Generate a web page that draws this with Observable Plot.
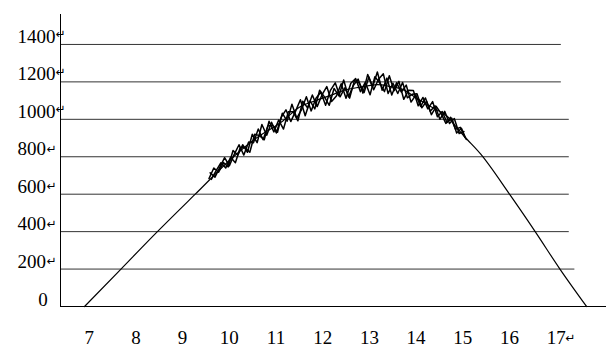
<!DOCTYPE html>
<html><head><meta charset="utf-8">
<script src="https://cdn.jsdelivr.net/npm/d3@7"></script>
<script src="https://cdn.jsdelivr.net/npm/@observablehq/plot@0.6"></script>
<style>body{margin:0;background:#fff}</style>
</head><body><div id="chart"></div>
<script>
// Tick labels
const xTicks = [7, 8, 9, 10, 11, 12, 13, 14, 15, 16, 17];
const yTicks = [0, 200, 400, 600, 800, 1000, 1200, 1400];

// Smooth curve (hour, value)
const smoothHours  = [6.90, 7.68, 8.46, 9.27, 10.09, 10.58, 11.14, 11.5, 11.85, 12.17, 12.45, 12.81, 13.17, 13.45, 13.71, 14.03, 14.37, 14.67, 14.89, 15.01, 15.38, 16.0, 16.55, 17.08, 17.65];
const smoothValues = [0, 200, 400, 600, 800, 900, 990, 1065, 1100, 1128, 1155, 1172, 1185, 1175, 1160, 1110, 1060, 1015, 950, 915, 815, 600, 400, 200, 0];

// Noisy measured series (start hour, step, values)
const noiseStep = 0.103;
const noiseAStart = 9.565;
const noiseA = [683, 740, 717, 769, 746, 833, 809, 864, 824, 920, 875, 972, 915, 984, 927, 1010, 1051, 988, 1044, 1105, 1019, 1098, 1056, 1155, 1120, 1075, 1165, 1125, 1210, 1120, 1180, 1215, 1140, 1240, 1172, 1253, 1155, 1220, 1130, 1195, 1145, 1183, 1092, 1130, 1069, 1114, 1043, 1072, 1000, 1043, 978, 1004, 924, 935];
const noiseBStart = 9.615;
const noiseB = [679, 726, 768, 740, 797, 768, 849, 849, 824, 920, 913, 891, 990, 933, 996, 948, 1040, 1041, 992, 1097, 1061, 1130, 1068, 1130, 1175, 1095, 1125, 1190, 1113, 1193, 1218, 1148, 1198, 1131, 1228, 1194, 1148, 1233, 1153, 1203, 1107, 1155, 1154, 1072, 1117, 1056, 1095, 1014, 1042, 983, 1006, 927, 952, 892];
const noiseCStart = 9.59;
const noiseC = [714, 691, 743, 795, 752, 813, 864, 809, 879, 875, 948, 891, 965, 968, 931, 1033, 990, 1081, 1007, 1052, 1121, 1045, 1113, 1145, 1075, 1155, 1195, 1120, 1168, 1113, 1208, 1193, 1143, 1226, 1158, 1214, 1243, 1138, 1193, 1138, 1197, 1115, 1134, 1137, 1062, 1096, 1025, 1069, 1032, 978, 1011, 947, 957, 902];

const smooth = smoothHours.map((h, i) => ({h, v: smoothValues[i]}));
const toSeries = (start, vals) => vals.map((v, i) => ({h: start + noiseStep * i, v}));
const seriesA = toSeries(noiseAStart, noiseA);
const seriesB = toSeries(noiseBStart, noiseB);
const seriesC = toSeries(noiseCStart, noiseC);

const grid = yTicks.filter(d => d > 0);
const xLeft = 6.385, xRight = 18.077, yTop = 1560;
const gridEnd = d => d >= 1200 ? 17.11 : d <= 200 ? 17.40 : 17.28;

const chart = Plot.plot({
  width: 608,
  height: 346,
  marginLeft: 60, marginRight: 2, marginTop: 14, marginBottom: 40,
  style: {fontFamily: "Liberation Serif", fontSize: "19px", background: "#fff", color: "#000"},
  x: {axis: null, domain: [xLeft, xRight]},
  y: {axis: null, domain: [0, yTop]},
  marks: [
    Plot.ruleY(grid, {y: d => d, x1: () => xLeft, x2: gridEnd, stroke: "#333", strokeWidth: 1}),
    Plot.ruleY([0], {x1: () => xLeft, x2: () => xRight, stroke: "#000", strokeWidth: 1}),
    Plot.ruleX([xLeft], {y1: () => 0, y2: () => yTop, stroke: "#000", strokeWidth: 1}),
    Plot.line(smooth, {x: "h", y: "v", stroke: "#000", strokeWidth: 1.2, curve: "monotone-x"}),
    Plot.line(seriesA, {x: "h", y: "v", stroke: "#000", strokeWidth: 1.5}),
    Plot.line(seriesB, {x: "h", y: "v", stroke: "#000", strokeWidth: 1.5}),
    Plot.line(seriesC, {x: "h", y: "v", stroke: "#000", strokeWidth: 1.5}),
    // y labels
    Plot.text(yTicks.filter(d => d > 0), {y: d => d, frameAnchor: "left", text: d => String(d), textAnchor: "start", lineAnchor: "bottom", dx: -43, dy: -1.5, fill: "#000"}),
    Plot.text([0], {y: d => d, frameAnchor: "left", text: d => String(d), textAnchor: "middle", lineAnchor: "bottom", dx: -17.5, dy: -1, fill: "#000"}),
    Plot.text(yTicks.filter(d => d >= 1000), {y: d => d, frameAnchor: "left", text: () => "↵", textAnchor: "start", lineAnchor: "bottom", dx: -5, dy: -6, fontSize: 12, fontFamily: "DejaVu Sans", fill: "#000"}),
    Plot.text(yTicks.filter(d => d > 0 && d < 1000), {y: d => d, frameAnchor: "left", text: () => "↵", textAnchor: "start", lineAnchor: "bottom", dx: -14, dy: -4, fontSize: 12, fontFamily: "DejaVu Sans", fill: "#000"}),
    // x labels
    Plot.text(xTicks, {x: d => d, y: () => 0, text: d => String(d), textAnchor: "middle", lineAnchor: "bottom", dy: 37, fill: "#000"}),
    Plot.text([17], {x: d => d, y: () => 0, text: () => "↵", textAnchor: "start", lineAnchor: "bottom", dx: 9, dy: 35, fontSize: 12, fontFamily: "DejaVu Sans", fill: "#000"})
  ]
});
document.getElementById("chart").appendChild(chart);
</script>
</body></html>
